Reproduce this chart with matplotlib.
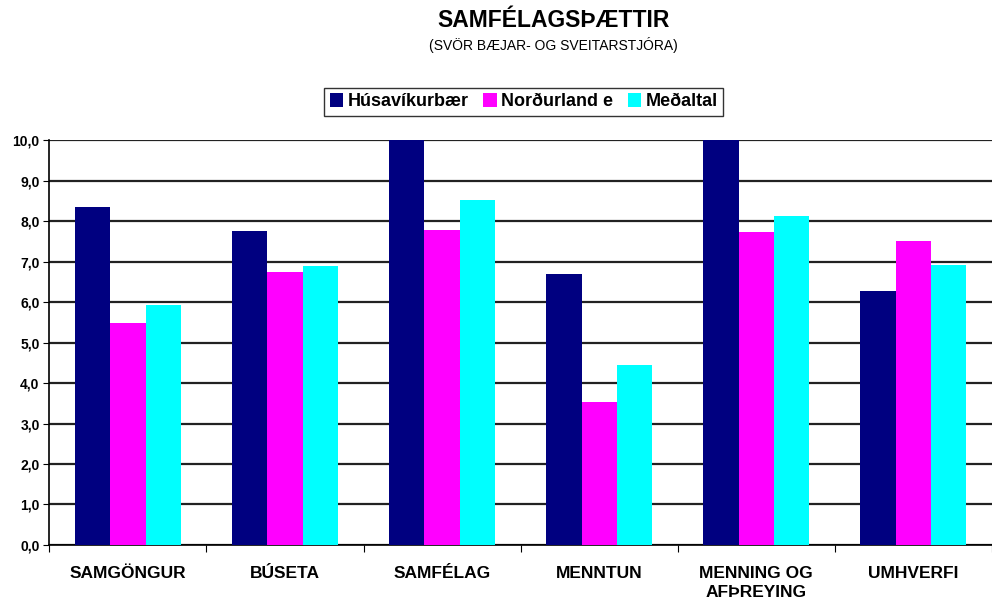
import matplotlib.pyplot as plt
import numpy as np
from matplotlib.patches import Patch

plt.rcParams['font.family'] = ['Liberation Sans', 'DejaVu Sans']

categories = ['SAMGÖNGUR', 'BÚSETA', 'SAMFÉLAG', 'MENNTUN', 'MENNING OG\nAFÞREYING', 'UMHVERFI']
series_names = ['Húsavíkurbær', 'Norðurland e', 'Meðaltal']
husavik = [8.35, 7.75, 10.0, 6.69, 10.0, 6.27]
nordurland = [5.48, 6.74, 7.78, 3.53, 7.73, 7.51]
medaltal = [5.93, 6.89, 8.52, 4.44, 8.12, 6.91]
colors = ['#000080', '#FF00FF', '#00FFFF']

fig = plt.figure(figsize=(9.92, 6.06), dpi=100)
ax = fig.add_axes([0.0497, 0.1007, 0.9503, 0.668])

x = np.arange(len(categories))
w = 0.225
for i, (vals, c) in enumerate(zip([husavik, nordurland, medaltal], colors)):
    ax.bar(x + (i - 1) * w, vals, w, color=c, zorder=3)

ax.set_ylim(0, 10)
ax.set_xlim(-0.5, 5.44)
ax.set_yticks(np.arange(0, 11, 1))
ax.set_yticklabels([f'{v:.1f}'.replace('.', ',') for v in range(0, 11)],
                   fontweight='bold', fontsize=10)
ax.yaxis.grid(True, color='#222222', linewidth=1.6, zorder=0)
ax.set_axisbelow(True)

# ticks between categories, labels at centers
ax.set_xticks(np.arange(-0.5, 6, 1))
ax.set_xticklabels([])
ax.set_xticks(x, minor=True)
ax.set_xticklabels(categories, minor=True, fontweight='bold', fontsize=12.5,
                   linespacing=1.35)
ax.tick_params(axis='x', which='major', length=5, color='black')
ax.tick_params(axis='x', which='minor', length=0, pad=15)
ax.tick_params(axis='y', length=4, pad=3)

for side in ['top', 'right']:
    ax.spines[side].set_visible(False)
ax.spines['left'].set_linewidth(1.2)
ax.spines['bottom'].set_linewidth(1.2)

fig.text(0.558, 0.966, 'SAMFÉLAGSÞÆTTIR', ha='center', va='center',
         fontsize=16.5, fontweight='bold')
fig.text(0.558, 0.926, '(SVÖR BÆJAR- OG SVEITARSTJÓRA)', ha='center', va='center',
         fontsize=10)

handles = [Patch(facecolor=c, edgecolor='none') for c in colors]
leg = fig.legend(handles, series_names, loc='center', bbox_to_anchor=(0.528, 0.832),
                 ncol=3, frameon=True, fancybox=False, edgecolor='black',
                 prop={'weight': 'bold', 'size': 13}, handlelength=0.75,
                 handleheight=0.75, handletextpad=0.25, columnspacing=0.8,
                 borderpad=0.3, borderaxespad=0)
leg.get_frame().set_linewidth(1.0)

fig.savefig('out.png', dpi=100)
